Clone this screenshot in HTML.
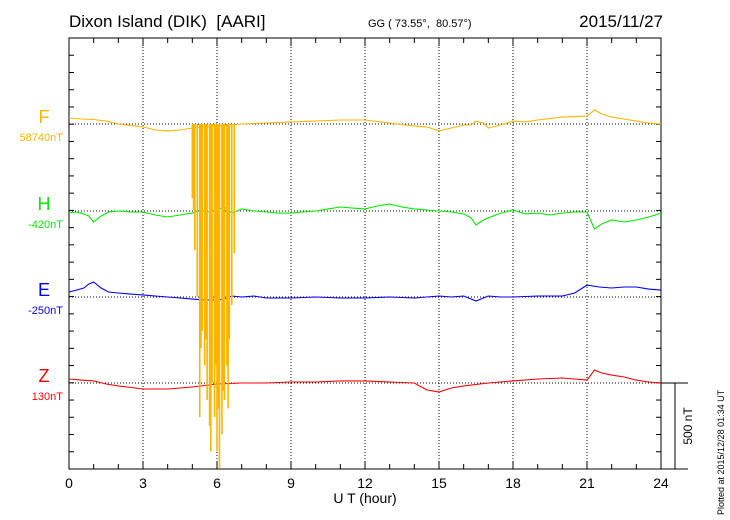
<!DOCTYPE html>
<html><head><meta charset="utf-8"><style>
body{margin:0;background:#fff;}
svg{display:block;font-family:"Liberation Sans",sans-serif;}
text{white-space:pre;}
</style></head><body>
<svg id="c" width="730" height="520">
<text x="69" y="27" font-size="17">Dixon Island (DIK)  [AARI]</text>
<text x="368" y="27" font-size="11">GG ( 73.55°,  80.57°)</text>
<text x="663" y="27" font-size="17" text-anchor="end">2015/11/27</text>
<text x="365" y="503" font-size="14" text-anchor="middle">U T (hour)</text>
<text transform="translate(724,515) rotate(-90)" font-size="9">Plotted at 2015/12/28 01:34 UT</text>
<text transform="translate(692,426) rotate(-90)" font-size="12" text-anchor="middle">500 nT</text>
<g id="g"></g>
</svg>
<script>
const xTicks=[0,3,6,9,12,15,18,21,24];
const comps=['F','H','E','Z'];
const compLabels=['58740nT','-420nT','-250nT','130nT'];
const fT=[0,0.5,1,1.5,2,3,3.5,4,4.5,5,7,8,9,10,11,12,13,14,14.5,15,15.5,16,16.3,16.5,16.8,17,17.5,18,18.5,19,20,21,21.3,21.6,22,22.5,23,23.5,24];
const fV=[35,29,26,17,0,-17,-35,-40,-35,-23,0,6,12,17,23,23,6,-12,-17,-40,-23,-6,-6,17,6,-23,-6,17,12,23,40,46,81,58,40,29,17,6,0];
const spikeT=[5.0,5.05,5.1,5.2,5.3,5.35,5.4,5.5,5.55,5.6,5.7,5.75,5.8,5.9,5.95,6.0,6.05,6.1,6.2,6.25,6.3,6.4,6.45,6.5,6.6,6.7];
const spikeV=[-430,-500,-730,-1000,-1700,-1300,-1200,-1400,-1250,-1600,-1750,-1900,-1500,-1700,-1400,-1900,-1650,-2000,-1800,-1550,-1600,-1400,-1650,-1250,-1050,-750];
const hT=[0,0.3,0.6,0.8,1,1.3,1.6,2,2.5,3,3.5,4,4.5,5,5.3,5.6,6,6.3,6.6,7,7.5,8,8.5,9,9.5,10,10.5,11,11.5,12,12.5,13,13.5,14,14.5,15,15.5,16,16.3,16.5,16.8,17,17.5,18,18.5,19,19.5,20,20.5,21,21.3,21.6,22,22.5,23,23.5,24];
const hV=[-12,-6,-17,-29,-64,-29,-6,0,-6,-6,-23,-35,-23,-12,6,-6,6,23,-12,12,0,-6,-12,-12,-6,0,12,23,17,12,29,40,23,12,6,0,-6,-17,-40,-81,-52,-40,-12,6,-17,-12,-23,-12,-6,-6,-104,-75,-52,-64,-52,-35,-12];
const eT=[0,0.3,0.6,0.8,1,1.3,1.6,2,2.5,3,3.5,4,4.5,5,5.5,6,6.3,6.6,7,7.5,8,9,10,11,12,13,14,15,15.5,16,16.5,17,17.5,18,19,20,20.5,21,21.5,22,22.5,23,23.5,24];
const eV=[29,40,52,75,87,52,29,23,17,12,6,0,-6,-12,-17,-17,-12,6,0,6,-6,-6,0,-6,-6,0,-6,6,0,6,-23,6,0,0,6,6,23,69,58,52,58,58,46,40];
const zT=[0,0.5,1,1.5,2,3,4,5,6,7,8,9,10,11,12,13,14,14.5,15,15.5,16,17,18,19,20,21,21.3,21.6,22,22.5,23,23.5,24];
const zV=[23,17,12,-6,-17,-35,-35,-23,-6,0,0,6,6,12,12,6,0,-40,-52,-29,-17,0,12,23,29,17,75,58,46,35,17,6,0];
const colors=['#ffb400','#00ee00','#0000ff','#ff0000'];
const bases=[124,211,297,383];
const L=69,R=661,T=38,B=469,ppn=0.1724;
const X=h=>L+(R-L)*h/24, Y=(i,v)=>bases[i]-v*ppn;
const g=document.getElementById('g');const NS='http://www.w3.org/2000/svg';
function mk(t,a,p){const e=document.createElementNS(NS,t);for(const k in a)e.setAttribute(k,a[k]);(p||g).appendChild(e);return e;}
xTicks.slice(1,-1).forEach(h=>{const l=mk('line',{x1:X(h),x2:X(h),y1:T,y2:B,stroke:'#000','stroke-dasharray':'1,2','stroke-width':1});

});
bases.forEach((b,i)=>{const l=mk('line',{x1:L,x2:R,y1:b,y2:b,stroke:'#000','stroke-dasharray':'1,2','stroke-width':1});

});
const fr=mk('rect',{x:L,y:T,width:R-L,height:B-T,fill:'none',stroke:'#000','stroke-width':1});


for(let h=0;h<=24;h++){const len=h%3==0?8:5;
mk('line',{x1:X(h),x2:X(h),y1:T,y2:T+len,stroke:'#000'});mk('line',{x1:X(h),x2:X(h),y1:B,y2:B-len,stroke:'#000'});}
for(let y=B;y>T;y-=17.24){mk('line',{x1:L,x2:L+5,y1:y,y2:y,stroke:'#000'});mk('line',{x1:R,x2:R-5,y1:y,y2:y,stroke:'#000'});}
xTicks.forEach(h=>{const t=mk('text',{x:X(h),y:488,'font-size':14,'text-anchor':'middle'});t.textContent=h;

});
mk('line',{x1:R,x2:688,y1:383,y2:383,stroke:'#000'});mk('line',{x1:R,x2:688,y1:B,y2:B,stroke:'#000'});
mk('line',{x1:675,x2:675,y1:383,y2:B,stroke:'#000'});
comps.forEach((c,i)=>{const t=mk('text',{x:44,y:bases[i]-1,'font-size':18,'text-anchor':'middle',fill:colors[i]});t.textContent=c;


const t2=mk('text',{x:63,y:bases[i]+17,'font-size':11,'text-anchor':'end',fill:colors[i]});t2.textContent=compLabels[i];

});
function line(ts,vs,i,name){const d=ts.map((t,k)=>(k?'L':'M')+X(t).toFixed(1)+','+Y(i,vs[k]).toFixed(1)).join('');
const p=mk('path',{d:d,fill:'none',stroke:colors[i],'stroke-width':1.1});

}
line(hT,hV,1,'series-h');line(eT,eV,2,'series-e');line(zT,zV,3,'series-z');
spikeT.forEach((t,k)=>{const l=mk('line',{x1:X(t),x2:X(t),y1:Y(0,0),y2:Y(0,spikeV[k]),stroke:colors[0],'stroke-width':1.6});

});
line(fT,fV,0,'series-f');
</script>
</body></html>
